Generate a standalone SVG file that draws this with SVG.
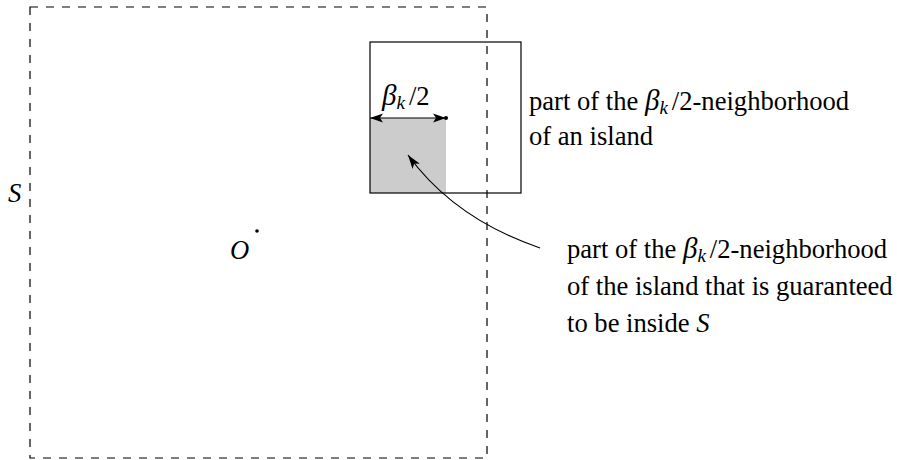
<svg xmlns="http://www.w3.org/2000/svg" width="897" height="460" viewBox="0 0 897 460">
<style>
text{font-family:"Liberation Serif","Times New Roman",serif;font-size:26.6px;fill:#000}
.i{font-style:italic}
.b{font-style:italic;font-size:29px}
.sub{font-style:italic;font-size:19px}
.ln{fill:none;stroke:#000;stroke-width:1.2}
</style>
<defs>
<marker id="ah" viewBox="0 0 14 10" refX="14" refY="5" markerWidth="14" markerHeight="10" markerUnits="userSpaceOnUse" orient="auto-start-reverse">
<path d="M0,0.5 L14,5 L0,9.5 L3.5,5 Z" fill="#000"/>
</marker>
<marker id="ah2" viewBox="0 0 13 10" refX="13" refY="5" markerWidth="13" markerHeight="10" markerUnits="userSpaceOnUse" orient="auto-start-reverse">
<path d="M0,0.5 L13,5 L0,9.5 L3,5 Z" fill="#000"/>
</marker>
</defs>
<g id="region-S">
<rect x="30" y="7" width="457" height="451" fill="none" stroke="#000" stroke-width="1.2" stroke-dasharray="8,8"/>
<text class="i" x="8" y="202" font-size="27">S</text>
</g>
<g id="origin">
<circle cx="257" cy="231" r="1.8" fill="#000"/>
<text class="i" x="230" y="259" font-size="21">O</text>
</g>
<g id="neighborhood">
<rect x="370" y="118" width="76" height="75" fill="#cccccc"/>
<rect x="370" y="42" width="151" height="151" class="ln"/>
</g>
<g id="connectors">
<line x1="370" y1="118" x2="446" y2="118" class="ln" marker-start="url(#ah2)" marker-end="url(#ah2)"/>
<circle cx="446" cy="118" r="2" fill="#000"/>
<path d="M540,248 Q454,218.5 408,155" class="ln" marker-end="url(#ah)"/>
</g>
<g id="labels">
<text x="382" y="105" font-size="29"><tspan class="b">β</tspan><tspan class="sub" dy="4">k</tspan><tspan dx="4" dy="-4">/2</tspan></text>
<text x="529" y="110">part of the <tspan class="b">β</tspan><tspan class="sub" dy="4">k</tspan><tspan dx="4" dy="-4">/2-neighborhood</tspan></text>
<text x="529" y="145">of an island</text>
<text x="567" y="258">part of the <tspan class="b">β</tspan><tspan class="sub" dy="4">k</tspan><tspan dx="4" dy="-4">/2-neighborhood</tspan></text>
<text x="567" y="295">of the island that is guaranteed</text>
<text x="567" y="332">to be inside <tspan class="i">S</tspan></text>
</g>
</svg>
